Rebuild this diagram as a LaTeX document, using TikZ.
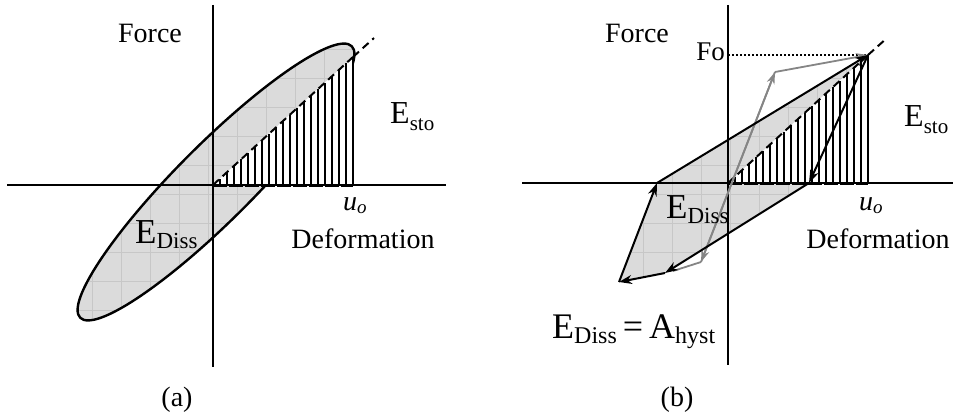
\documentclass[tikz,border=0pt]{standalone}
\usepackage{fontspec}
\usepackage{graphicx}
\setmainfont{Liberation Serif}
\usetikzlibrary{arrows.meta}
\newcommand{\fsz}[1]{\fontsize{#1}{#1}\selectfont}
\newcommand{\withsub}[5]{{\fsz{#1}#3\raisebox{-#5pt}{\fsz{#2}#4}}}
\definecolor{fillc}{gray}{0.86}
\definecolor{gridc}{gray}{0.78}
\definecolor{arrgray}{gray}{0.52}
\tikzset{
  axis/.style={line width=2pt},
  outline/.style={line width=2.4pt},
  hatch/.style={line width=1.5pt},
  hyp/.style={line width=2pt, dash pattern=on 8pt off 5pt},
  vdash/.style={line width=2.6pt, dash pattern=on 10pt off 3pt},
  gridl/.style={gridc, line width=0.7pt},
  blk/.style={line width=2pt, -{Stealth[length=13pt,width=9pt]}},
  gry/.style={arrgray, line width=1.8pt, -{Stealth[length=12pt,width=8pt]}},
  lab/.style={inner sep=0pt, font=\fsz{28}},
}
\begin{document}
\begin{tikzpicture}[x=1pt,y=-1pt]
\useasboundingbox (0,0) rectangle (954,420);
% ================= panel (a) =================
\coordinate (Oa) at (213,185);
\coordinate (Pa) at (353,57);
\coordinate (Fa) at (353,185);
\coordinate (Ta) at (374,38);
\begin{scope}
  \clip[rotate around={45:(216,182)}] (216,182) ellipse (192 and 38);
  \fill[fillc] (0,0) rectangle (477,420);
  \foreach \x in {5,34,...,477} \draw[gridl] (\x,0) -- (\x,420);
  \foreach \y in {20,49,...,420} \draw[gridl] (0,\y) -- (477,\y);
\end{scope}
\draw[outline, rotate around={45:(216,182)}] (216,182) ellipse (192 and 38);
\fill[white] (Oa) -- (Pa) -- (Fa) -- cycle;
\foreach \x in {220,227,...,353}
  \draw[hatch] (\x,185) -- (\x,{185-(\x-213)*0.914286});
\draw[axis] (213,5) -- (213,367);
\draw[axis] (7,185) -- (446,185);
\draw[line width=3pt, dash pattern=on 14pt off 2pt] (Oa) -- (Fa);
\draw[hyp] (Oa) -- (Pa);
\draw[hyp] (Pa) -- (Ta);
\draw[vdash] (Pa) -- (Fa);
\node[lab, anchor=base] (forcea) at (150,43) {Force};
\node[lab, anchor=base west] (estoa) at (390,124) {\withsub{32}{21}{E}{sto}{6}};
\node[lab, anchor=base west] (uoa) at (343,210) {\itshape u\raisebox{-3pt}{\fsz{19}o}};
\node[lab, anchor=base] (defa) at (363,248) {Deformation};
\node[lab, anchor=base west] (edissa) at (135,243) {\withsub{35}{23}{E}{Diss}{5}};
\node[lab, anchor=base] (capa) at (177,406) {(a)};
% ================= panel (b) =================
\coordinate (Ob) at (728,183);
\coordinate (P1) at (868,55);
\coordinate (P2) at (809,183);
\coordinate (P3) at (665,273);
\coordinate (P4) at (619,282);
\coordinate (P5) at (657,183);
\coordinate (Fb) at (868,183);
\coordinate (Tb) at (887,38);
\coordinate (Fo) at (728,55);
\coordinate (GA) at (673,271);
\coordinate (GB) at (701,262);
\coordinate (GC) at (775,72);
\begin{scope}
  \clip (P1) -- (P2) -- (P3) -- (P4) -- (P5) -- cycle;
  \fill[fillc] (477,0) rectangle (954,420);
  \foreach \x in {498,527,...,954} \draw[gridl] (\x,0) -- (\x,420);
  \foreach \y in {20,49,...,420} \draw[gridl] (477,\y) -- (954,\y);
\end{scope}
\fill[white] (Ob) -- (P1) -- (Fb) -- cycle;
\foreach \x in {735,742,...,868}
  \draw[hatch] (\x,183) -- (\x,{183-(\x-728)*0.914286});
\draw[axis] (728,5) -- (728,365);
\draw[axis] (522,183) -- (953,183);
\draw[line width=3pt, dash pattern=on 14pt off 2pt] (Ob) -- (Fb);
\draw[hyp] (Ob) -- (P1);
\draw[hyp] (P1) -- (Tb);
\draw[vdash] (P1) -- (Fb);
\draw[line width=1.3pt, dash pattern=on 1.5pt off 2.5pt] (Fo) -- (P1);
% gray path
\draw[arrgray, line width=1.8pt] (GA) -- (GB);
\draw[gry] (GC) -- (GB);
\draw[gry] (GB) -- (GC);
\draw[gry] (GC) -- (P1);
% black loop
\draw[blk] (P1) -- (P2);
\draw[blk] (P2) -- (P3);
\draw[blk] (P3) -- (P4);
\draw[blk] (P4) -- (P5);
\draw[blk] (P5) -- (P1);
\node[lab, anchor=base] (forceb) at (637,43) {Force};
\node[lab, anchor=base east, font=\fsz{27}] (fob) at (725,61) {Fo};
\node[lab, anchor=base west] (estob) at (904,127) {\withsub{32}{21}{E}{sto}{6}};
\node[lab, anchor=base west] (uob) at (859,210) {\itshape u\raisebox{-3pt}{\fsz{19}o}};
\node[lab, anchor=base] (defb) at (878,248) {Deformation};
\node[lab, anchor=base west] (edissb) at (666,218) {\withsub{35}{23}{E}{Diss}{5}};
\node[lab, anchor=base west] (formula) at (552,338) {\withsub{36}{24}{E}{Diss}{5}\fsz{36}\,=\,\withsub{36}{24}{A}{hyst}{5}};
\node[lab, anchor=base] (capb) at (677,406) {(b)};
\end{tikzpicture}
\end{document}
